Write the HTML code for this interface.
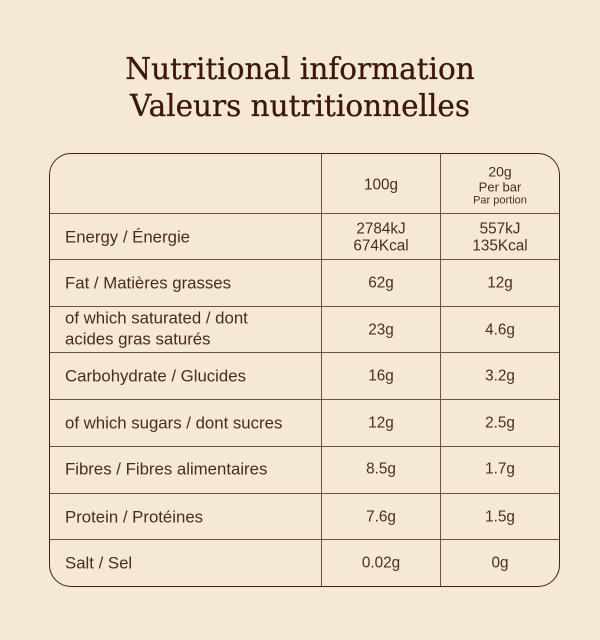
<!DOCTYPE html>
<html><head><meta charset="utf-8">
<style>
html,body{margin:0;padding:0;}
body{width:600px;height:640px;background:#f5e9d6;position:relative;overflow:hidden;font-family:"Liberation Sans",sans-serif;color:#4a2c20;}
.t{position:absolute;left:0;width:600px;text-align:center;font-family:"DejaVu Serif","Liberation Serif",serif;font-size:29.5px;color:#3b170d;white-space:nowrap;-webkit-text-stroke:0.3px #3b170d;}
.box{position:absolute;left:49px;top:153px;width:509px;height:432px;border:1.6px solid #40221a;border-radius:22px;}
.h{position:absolute;height:1.3px;background:#6a5345;left:50px;width:509px;}
.v{position:absolute;width:1.3px;background:#6a5345;top:154px;height:432px;}
.l{position:absolute;left:65px;font-size:16.8px;white-space:nowrap;transform:translateY(-50%);line-height:21px;}
.c{position:absolute;width:120px;text-align:center;font-size:15.3px;white-space:nowrap;transform:translateY(-50%);line-height:17px;}
.c2{left:321px;}
.c3{left:440px;}
</style></head><body>
<div class="t" style="top:52px;">Nutritional information</div>
<div class="t" style="top:89px;">Valeurs nutritionnelles</div>
<div class="box"></div>
<div class="v" style="left:321px;"></div>
<div class="v" style="left:440px;"></div>
<div class="h" style="top:213px;"></div>
<div class="h" style="top:259px;"></div>
<div class="h" style="top:306px;"></div>
<div class="h" style="top:352px;"></div>
<div class="h" style="top:399px;"></div>
<div class="h" style="top:446px;"></div>
<div class="h" style="top:493px;"></div>
<div class="h" style="top:539px;"></div>

<div class="c c2" style="top:185px;">100g</div>
<div class="c c3" style="top:172px;font-size:14px;">20g</div>
<div class="c c3" style="top:187px;font-size:13px;">Per bar</div>
<div class="c c3" style="top:201px;font-size:11px;">Par portion</div>

<div class="l" style="top:237px;">Energy / Énergie</div>
<div class="c c2" style="top:229px;">2784kJ</div>
<div class="c c2" style="top:246px;">674Kcal</div>
<div class="c c3" style="top:229px;">557kJ</div>
<div class="c c3" style="top:246px;">135Kcal</div>

<div class="l" style="top:283px;">Fat / Matières grasses</div>
<div class="c c2" style="top:283px;">62g</div>
<div class="c c3" style="top:283px;">12g</div>

<div class="l" style="top:318px;">of which saturated / dont</div>
<div class="l" style="top:339px;">acides gras saturés</div>
<div class="c c2" style="top:330px;">23g</div>
<div class="c c3" style="top:330px;">4.6g</div>

<div class="l" style="top:376px;">Carbohydrate / Glucides</div>
<div class="c c2" style="top:376px;">16g</div>
<div class="c c3" style="top:376px;">3.2g</div>

<div class="l" style="top:423px;">of which sugars / dont sucres</div>
<div class="c c2" style="top:423px;">12g</div>
<div class="c c3" style="top:423px;">2.5g</div>

<div class="l" style="top:469px;">Fibres / Fibres alimentaires</div>
<div class="c c2" style="top:469px;">8.5g</div>
<div class="c c3" style="top:469px;">1.7g</div>

<div class="l" style="top:517px;">Protein / Protéines</div>
<div class="c c2" style="top:517px;">7.6g</div>
<div class="c c3" style="top:517px;">1.5g</div>

<div class="l" style="top:563px;">Salt / Sel</div>
<div class="c c2" style="top:563px;">0.02g</div>
<div class="c c3" style="top:563px;">0g</div>
</body></html>
